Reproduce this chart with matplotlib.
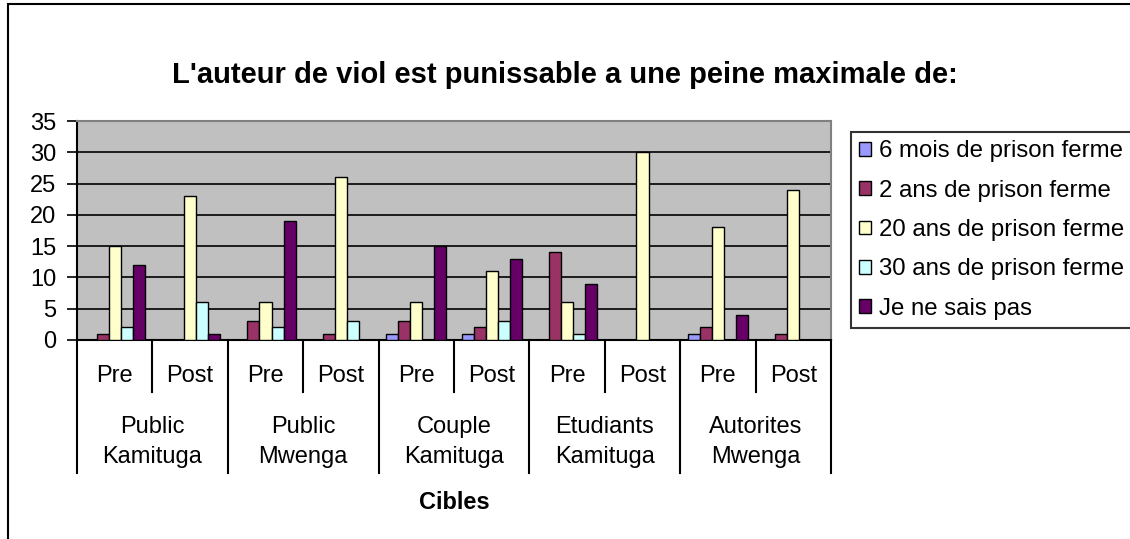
import numpy as np
import matplotlib.pyplot as plt
import matplotlib.transforms as mtransforms
from matplotlib.patches import Rectangle, Patch

plt.rcParams['font.family'] = ['Liberation Sans', 'DejaVu Sans']

groups = ['Public\nKamituga', 'Public\nMwenga', 'Couple\nKamituga', 'Etudiants\nKamituga', 'Autorites\nMwenga']
phases = ['Pre', 'Post']
series = ['6 mois de prison ferme', '2 ans de prison ferme', '20 ans de prison ferme',
          '30 ans de prison ferme', 'Je ne sais pas']
colors = ['#9999FF', '#993366', '#FFFFCC', '#CCFFFF', '#660066']

# one value per (group, phase): PK pre, PK post, PM pre, PM post, ...
six_mois = [0, 0, 0, 0, 1, 1, 0, 0, 1, 0]
deux_ans = [1, 0, 3, 1, 3, 2, 14, 0, 2, 1]
vingt_ans = [15, 23, 6, 26, 6, 11, 6, 30, 18, 24]
trente_ans = [2, 6, 2, 3, 0, 3, 1, 0, 0, 0]
ne_sais_pas = [12, 1, 19, 0, 15, 13, 9, 0, 4, 0]
values = [six_mois, deux_ans, vingt_ans, trente_ans, ne_sais_pas]

W, H = 1130, 539
fig = plt.figure(figsize=(W / 100, H / 100), dpi=100)
ax = fig.add_axes([77 / W, 1 - 340 / H, (831 - 77) / W, (340 - 121) / H])

x = np.arange(len(six_mois))
bw = 0.16
for k, (vals, c) in enumerate(zip(values, colors)):
    ax.bar(x + (k - 2) * bw, vals, bw, color=c, edgecolor='black', linewidth=1, zorder=3)

ax.set_facecolor('#C0C0C0')
ax.set_xlim(-0.5, len(x) - 0.5)
ax.set_ylim(0, 35)
ax.set_yticks(range(0, 36, 5))
ax.yaxis.grid(True, color='black', linewidth=1.2)
ax.set_axisbelow(True)
ax.tick_params(axis='y', labelsize=17, length=7, width=1.2, pad=8, direction='out')
ax.set_xticks([])
for s in ['top', 'right']:
    ax.spines[s].set_color('#808080')
    ax.spines[s].set_linewidth(1.5)
for s in ['left', 'bottom']:
    ax.spines[s].set_linewidth(1.5)

# multi-level category axis
trans = mtransforms.blended_transform_factory(ax.transData, ax.transAxes)
for i in range(len(x)):
    ax.text(i, -0.164, phases[i % 2], transform=trans, ha='center', va='center', fontsize=17)
for i in range(len(x) + 1):
    xb = i - 0.5
    y1 = -0.607 if i % 2 == 0 else -0.237
    ax.plot([xb, xb], [0, y1], transform=trans, color='black', lw=1.5, clip_on=False)
for g, name in enumerate(groups):
    ax.text(2 * g + 0.5, -0.466, name, transform=trans, ha='center', va='center',
            fontsize=17, linespacing=1.45)
ax.text(0.5, -0.74, 'Cibles', transform=ax.transAxes, ha='center', va='center',
        fontsize=17, fontweight='bold')

fig.text(0.5, 1 - 75 / H, "L'auteur de viol est punissable a une peine maximale de:",
         ha='center', va='center', fontsize=21, fontweight='bold')

handles = [Patch(facecolor=c, edgecolor='black', linewidth=1) for c in colors]
leg = fig.legend(handles, series, loc='upper left', bbox_to_anchor=(851 / W, 1 - 132 / H),
                 fontsize=17.3, frameon=True, fancybox=False, borderaxespad=0,
                 handlelength=0.5, handleheight=0.5, handletextpad=0.3,
                 labelspacing=0.72, borderpad=0.35)
leg.get_frame().set_edgecolor('black')
leg.get_frame().set_linewidth(1.5)

fig.patches.append(Rectangle((8 / W, -0.1), 1.2, 1.1 - 4 / H, transform=fig.transFigure,
                             fill=False, edgecolor='black', linewidth=1.5))

fig.savefig('out.png', dpi=100)
